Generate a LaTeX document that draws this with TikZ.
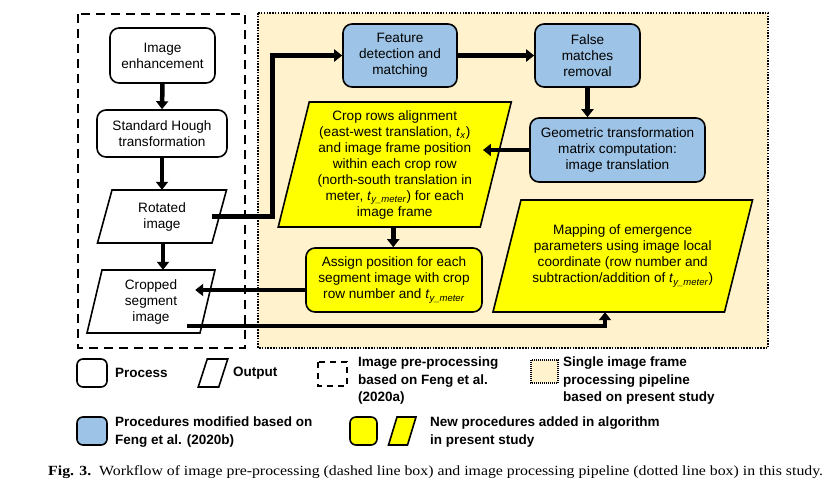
\documentclass[tikz,border=0pt]{standalone}
\usepackage{fontspec}
\setmainfont{Liberation Sans}
\newfontfamily\capfont[FakeStretch=1.13]{Liberation Serif}
\newfontfamily\legwide[FakeStretch=1.1]{Liberation Sans}
\usetikzlibrary{arrows.meta}
\definecolor{procblue}{RGB}{157,195,230}
\definecolor{newyellow}{RGB}{255,255,0}
\definecolor{pipebeige}{RGB}{255,242,204}
\tikzset{
  boxfont/.style={font=\fontsize{13.6}{16}\selectfont},
  proc/.style={draw=black, line width=1.6pt, rounded corners=9pt, align=center, boxfont, inner sep=0pt},
  ptext/.style={align=center, boxfont, inner sep=0pt},
  pshape/.style={draw=black, line width=1.6pt, line join=miter},
  arr/.style={line width=4.5pt, -{Triangle[width=12pt,length=8pt]}},
  dashbox/.style={draw=black, line width=2pt, dash pattern=on 9pt off 6pt},
  dotbox/.style={draw=black, line width=2pt, dash pattern=on 1.5pt off 1.3pt, fill=pipebeige},
  legtext/.style={font=\bfseries\fontsize{13.5}{17.5}\selectfont, align=left, anchor=west, inner sep=0pt},
  legbox/.style={draw=black, line width=1.6pt, rounded corners=6pt, minimum width=30pt, minimum height=28pt, inner sep=0pt},
}
\newcommand\paranode[8]{%
  \draw[pshape, fill=#7] ({#2-#4/2+#6/2},{#3-#5/2}) -- ({#2+#4/2+#6/2},{#3-#5/2}) -- ({#2+#4/2-#6/2},{#3+#5/2}) -- ({#2-#4/2-#6/2},{#3+#5/2}) -- cycle;
  \node[ptext, minimum width=#4pt, minimum height=#5pt] (#1) at (#2,#3) {#8};}
\newcommand\tsub[1]{\textit{t}\textsubscript{\textit{#1}}}
\begin{document}
\begin{tikzpicture}[x=1pt,y=-1pt]
\useasboundingbox (0,0) rectangle (832,491);
% group boxes
\draw[dotbox] (258,13) rectangle (768,348);
\draw[dashbox] (78,14) rectangle (245,348);

% pre-processing column
\node[proc, minimum width=105pt, minimum height=55pt] (enh) at (162.5,55.5) {Image\\enhancement};
\node[proc, minimum width=130pt, minimum height=47pt] (hough) at (162,133.5) {Standard Hough\\transformation};
\paranode{rot}{162}{216.5}{114.5}{53}{14.5}{white}{Rotated\\image}
\paranode{crp}{151}{301.5}{113}{63}{15}{white}{Cropped\\segment\\image}

% pipeline
\node[proc, fill=procblue, minimum width=114pt, minimum height=63pt] (feat) at (400,55.5) {Feature\\detection and\\matching};
\node[proc, fill=procblue, minimum width=105pt, minimum height=63pt] (fals) at (587.5,55.5) {False\\matches\\removal};
\node[proc, fill=procblue, minimum width=175pt, minimum height=64pt] (geom) at (617.5,150) {Geometric transformation\\matrix computation:\\image translation};
\paranode{cr}{394.75}{164.5}{202}{125}{31}{newyellow}{Crop rows alignment\\(east-west translation, \tsub{x})\\and image frame position\\within each crop row\\(north-south translation in\\meter, \tsub{y\_meter}) for each\\image frame}
\node[proc, fill=newyellow, minimum width=176pt, minimum height=64pt] (asg) at (394,280) {Assign position for each\\segment image with crop\\row number and \tsub{y\_meter}};
\paranode{map}{622.75}{256}{231.5}{112}{28}{newyellow}{Mapping of emergence\\parameters using image local\\coordinate (row number and\\subtraction/addition of \tsub{y\_meter})}

% connectors
\draw[arr] (enh.south) -- (hough.north);
\draw[arr] (hough.south) -- (rot.north);
\draw[arr] ([xshift=1pt]rot.south) -- ([xshift=1pt]rot.south |- crp.north);
\draw[arr] ([xshift=-7pt]rot.east) -- ++(60,0) |- (feat.west);
\draw[arr] (feat.east) -- (fals.west);
\draw[arr] (fals.south) -- (fals.south |- geom.north);
\draw[arr] (geom.west) -- ([xshift=-13pt]geom.west -| cr.east);
\draw[arr] ([xshift=-1.5pt]cr.south) -- ([xshift=-1.5pt]cr.south |- asg.north);
\draw[arr] ([yshift=-10pt]asg.west) -- ([xshift=-12.5pt,yshift=-10pt]asg.west -| crp.east);
\draw[arr] ([xshift=-20.5pt,yshift=-24.5pt]crp.east) -| ([xshift=-17.75pt]map.south);

% legend
\node[legbox] (lgp) at (92,373) {};
\node[legtext] (lgpt) at (115,373) {Process};
\draw[pshape] (207.25,359) -- (227.75,359) -- (218.75,387) -- (198.25,387) -- cycle;
\node[legtext] (lgot) at (233,373) {Output};
\draw[dashbox, line width=1.6pt, dash pattern=on 6pt off 5pt] (318,362) rectangle (347,386);
\node[legtext, anchor=north west] (lgdt) at (358,357) {Image pre-processing\\based on Feng et al.\\(2020a)};
\draw[dotbox, line width=1.4pt, dash pattern=on 1pt off 1pt] (531,360) rectangle (558,383);
\node[legtext, anchor=north west] (lgbt) at (563,357) {Single image frame\\processing pipeline\\based on present study};
\node[legbox, fill=procblue] (lgb) at (92,431) {};
\node[legtext] (lgbx) at (115,432) {Procedures modified based on\\Feng et al. (2020b)};
\node[legbox, fill=newyellow, minimum width=27pt] (lgy) at (363.5,431) {};
\draw[pshape, fill=newyellow] (397,417) -- (416,417) -- (407.5,445) -- (388.5,445) -- cycle;
\node[legtext] (lgyt) at (430,432) {New procedures added in algorithm\\in present study};

% caption
\node[anchor=west, inner sep=0pt, font=\capfont\fontsize{14}{16}\selectfont] (cap) at (48,472) {\textbf{Fig. 3.}\ \ Workflow of image pre-processing (dashed line box) and image processing pipeline (dotted line box) in this study.};
\end{tikzpicture}
\end{document}
